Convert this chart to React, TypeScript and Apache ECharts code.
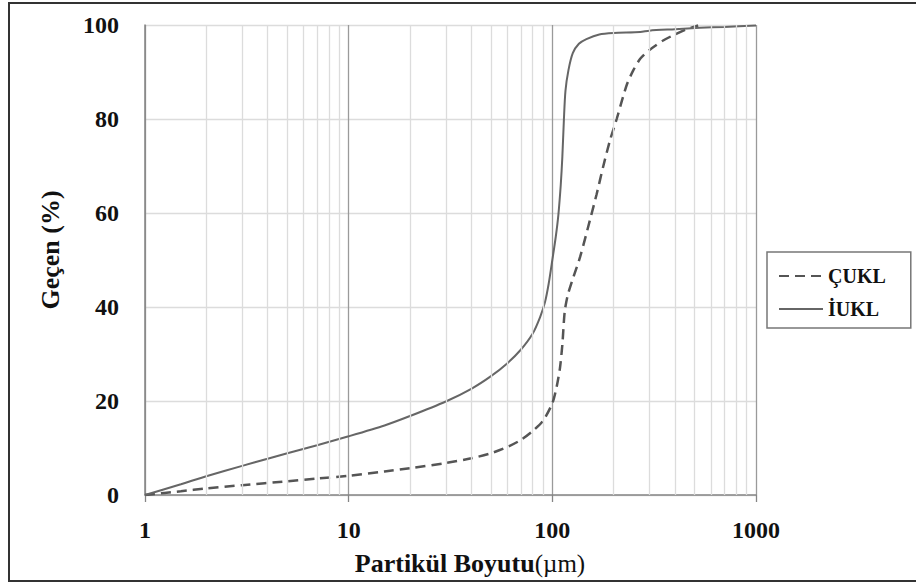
import React, { useEffect, useRef } from "react";
import * as echarts from "echarts";

// Particle size (µm) and cumulative passing (%) for each sample
const cuklSizes = [1, 1.5, 2, 3, 5, 7, 10, 15, 20, 30, 40, 50, 60, 70, 80, 90, 100, 105, 109, 112, 115, 119, 125, 137, 153, 165, 178, 192, 207, 220, 233, 250, 270, 300, 350, 400, 450, 520];
const cuklPassing = [0, 0.8, 1.4, 2.1, 2.9, 3.5, 4.1, 5.0, 5.7, 6.8, 7.8, 8.9, 10.2, 11.7, 13.6, 15.8, 19.5, 23, 27, 32, 39, 42.5, 45.5, 50.7, 58.5, 64, 70, 75.5, 80, 84, 87.5, 90.4, 92.8, 94.7, 96.7, 98, 99, 99.9];

const iuklSizes = [1, 1.5, 2, 3, 4, 5, 7, 10, 15, 20, 30, 40, 50, 60, 70, 80, 87, 92, 96, 100, 104, 107, 110, 112, 114, 116, 120, 126, 135, 147, 170, 200, 270, 300, 400, 530, 700, 1000];
const iuklPassing = [0, 2.3, 4.0, 6.2, 7.7, 8.9, 10.6, 12.5, 14.8, 16.8, 19.9, 22.6, 25.3, 28.0, 30.9, 34.3, 37.8, 41, 45, 50, 55, 59.5, 66, 72, 80, 86, 90.4, 94, 96, 97, 98, 98.3, 98.5, 98.8, 99.1, 99.4, 99.6, 99.9];

const seriesNames = ["ÇUKL", "İUKL"];
const yTicks = [0, 20, 40, 60, 80, 100];
const minorGridSizes = [2, 3, 4, 5, 6, 7, 8, 9, 20, 30, 40, 50, 60, 70, 80, 90, 200, 300, 400, 500, 600, 700, 800, 900];

const FONT = "'Liberation Serif', 'Times New Roman', serif";

const zip = (xs: number[], ys: number[]) => xs.map((x, i) => [x, ys[i]]);

export default function App() {
  const ref = useRef<HTMLDivElement>(null);

  useEffect(() => {
    if (!ref.current) return;
    const chart = echarts.init(ref.current, undefined, { renderer: "svg" });
    chart.setOption({
      animation: false,
      backgroundColor: "#ffffff",
      grid: { left: 145, right: 160, top: 25, bottom: 88, containLabel: false },
      xAxis: {
        type: "log",
        logBase: 10,
        min: 1,
        max: 1000,
        axisLine: { show: true, lineStyle: { color: "#858585", width: 1.5 } },
        axisTick: { show: true, length: 7, lineStyle: { color: "#858585", width: 1.3 } },
        axisLabel: {
          margin: 23,
          color: "#111",
          fontFamily: FONT,
          fontWeight: "bold",
          fontSize: 24,
          formatter: (v: number) => String(Math.round(v)),
        },
        splitLine: { show: true, lineStyle: { color: "#9a9a9a", width: 1.3 } },
      },
      yAxis: {
        type: "value",
        min: yTicks[0],
        max: yTicks[yTicks.length - 1],
        interval: 20,
        axisLine: { show: true, lineStyle: { color: "#858585", width: 1.5 } },
        axisTick: { show: false },
        axisLabel: {
          margin: 26,
          color: "#111",
          fontFamily: FONT,
          fontWeight: "bold",
          fontSize: 24,
        },
        splitLine: { show: true, lineStyle: { color: "#dcdcdc", width: 1.3 } },
      },
      legend: {
        data: seriesNames,
        orient: "vertical",
        left: 767,
        top: 252,
        padding: [14, 25, 9, 11],
        itemGap: 13,
        itemWidth: 44,
        itemHeight: 20,
        borderColor: "#777",
        borderWidth: 1.5,
        itemStyle: { opacity: 0, borderWidth: 0 },
        textStyle: {
          fontFamily: FONT,
          fontWeight: "bold",
          fontSize: 20,
          lineHeight: 20,
          color: "#111",
        },
      },
      series: [
        {
          name: "minor-grid",
          type: "line",
          data: [],
          silent: true,
          z: 1,
          markLine: {
            silent: true,
            symbol: ["none", "none"],
            label: { show: false },
            lineStyle: { color: "#dcdcdc", width: 1.3, type: "solid" },
            data: minorGridSizes.map((v) => ({ xAxis: v })),
          },
        },
        {
          name: seriesNames[0],
          type: "line",
          data: zip(cuklSizes, cuklPassing),
          symbol: "none",
          smooth: 0.25,
          z: 3,
          lineStyle: { color: "#555", width: 2.5, type: [10, 6] },
          itemStyle: { color: "#555" },
        },
        {
          name: seriesNames[1],
          type: "line",
          data: zip(iuklSizes, iuklPassing),
          symbol: "none",
          smooth: 0.25,
          z: 3,
          lineStyle: { color: "#666", width: 2 },
          itemStyle: { color: "#666" },
        },
      ],
      graphic: [
        {
          type: "rect",
          shape: { x: 9, y: 3, width: 930, height: 578 },
          style: { fill: "none", stroke: "#333", lineWidth: 2 },
          silent: true,
        },
        {
          type: "text",
          x: 470,
          y: 563,
          style: {
            text: "{b|Partikül Boyutu}{n|(µm)}",
            align: "center",
            verticalAlign: "middle",
            rich: {
              b: { fontFamily: FONT, fontWeight: "bold", fontSize: 26, fill: "#111" },
              n: { fontFamily: FONT, fontWeight: "normal", fontSize: 25, fill: "#111" },
            },
          },
        },
        {
          type: "text",
          x: 50,
          y: 250,
          rotation: Math.PI / 2,
          style: {
            text: "Geçen (%)",
            align: "center",
            verticalAlign: "middle",
            fontFamily: FONT,
            fontWeight: "bold",
            fontSize: 26,
            fill: "#111",
          },
        },
      ],
    });
    return () => chart.dispose();
  }, []);

  return (
    <div
      ref={ref}
      style={{ position: "fixed", left: 0, top: 0, width: 916, height: 583 }}
    />
  );
}
